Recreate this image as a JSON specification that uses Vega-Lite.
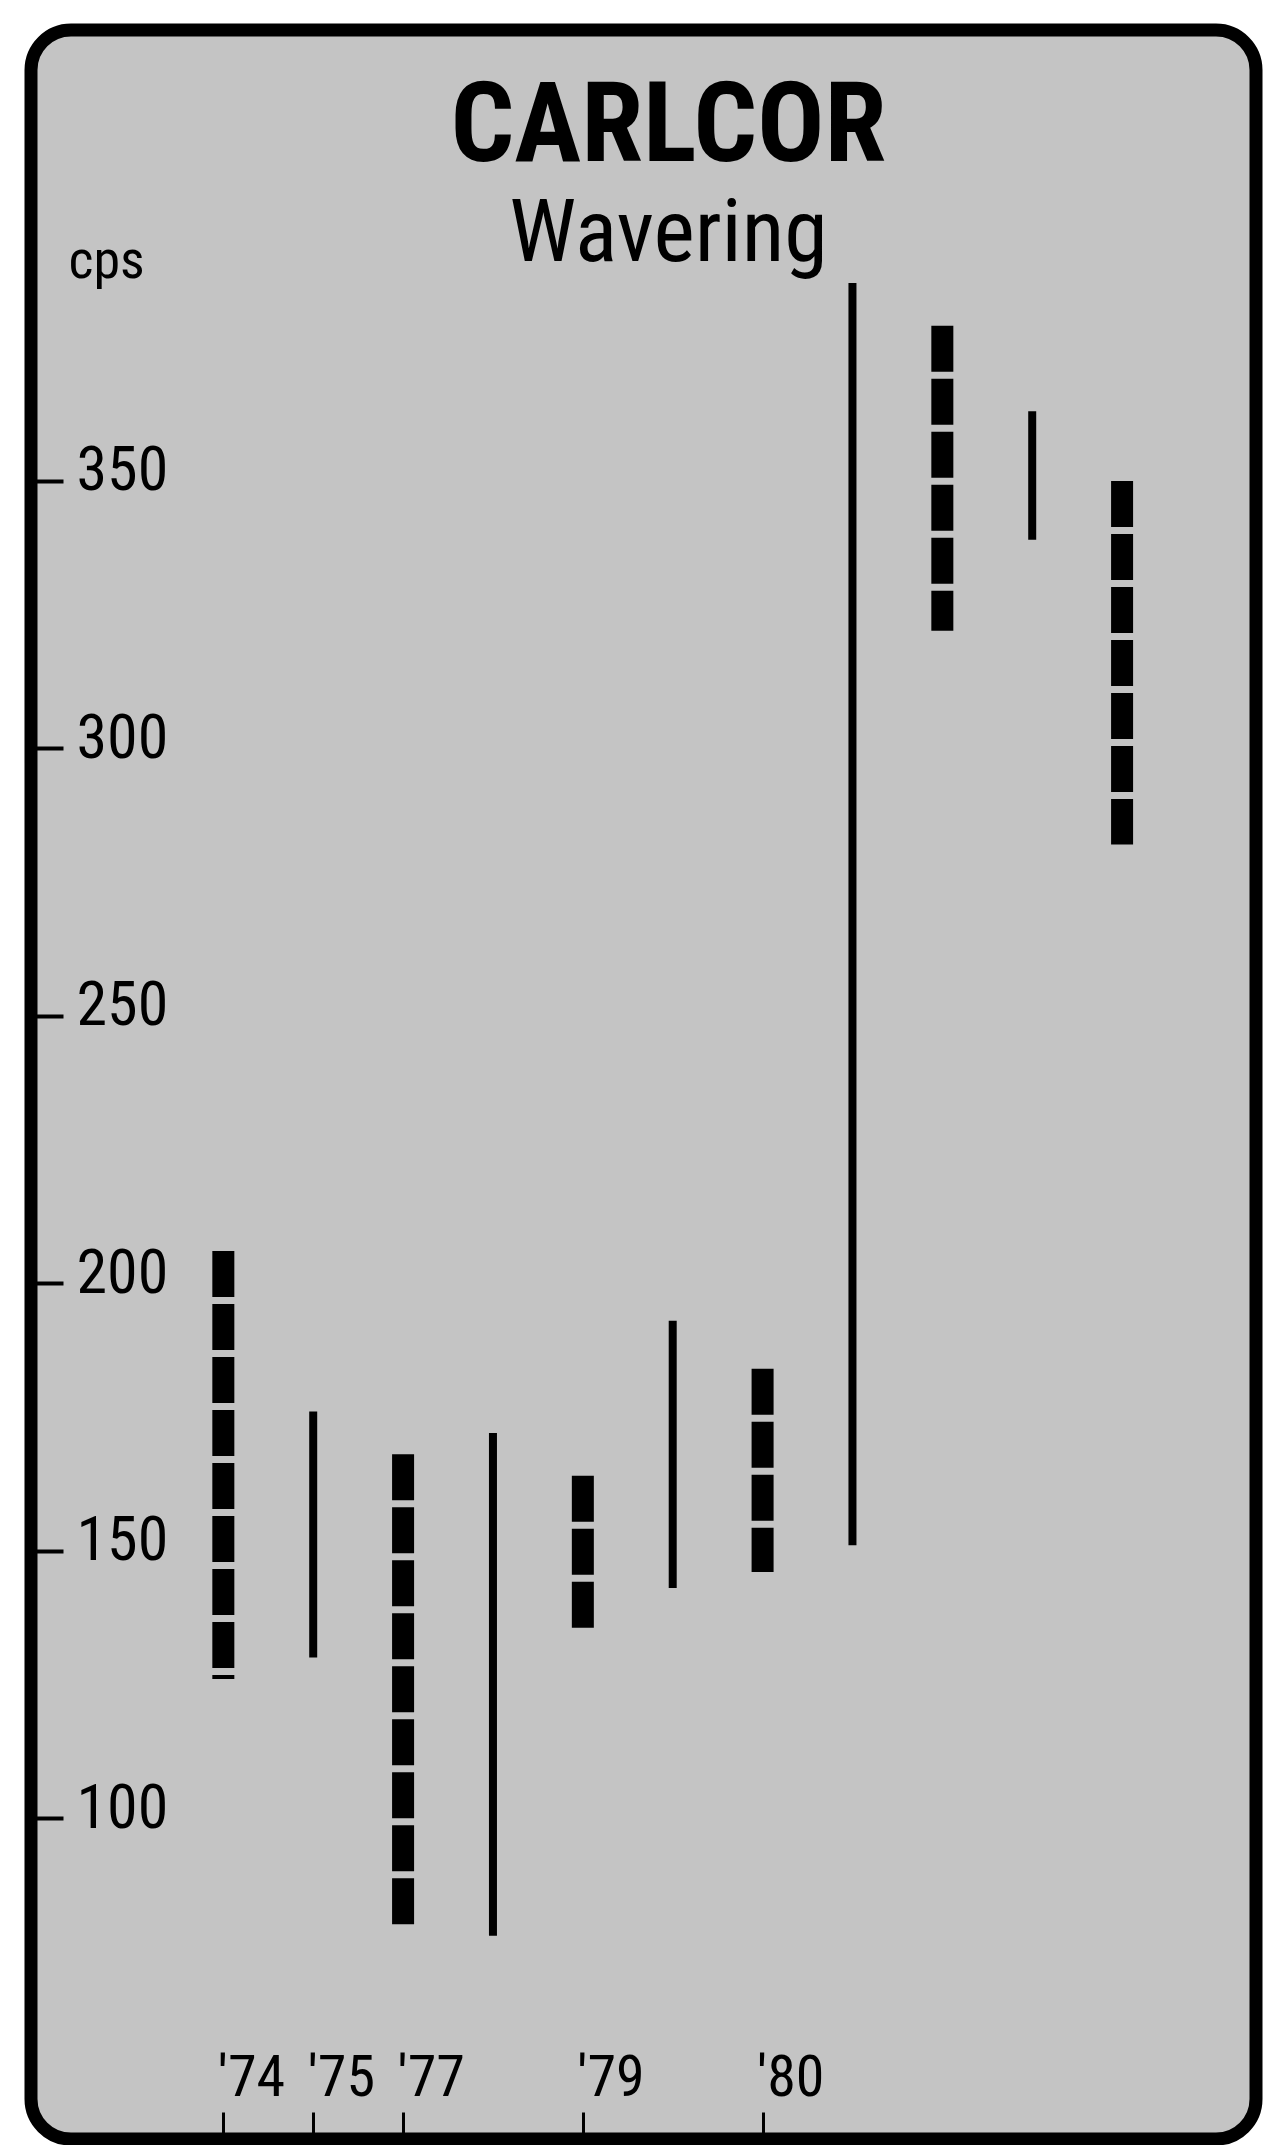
{
  "$schema": "https://vega.github.io/schema/vega-lite/v6.json",
  "width": 1225,
  "height": 2109,
  "autosize": {"type": "none"},
  "padding": {"left": 31, "top": 30, "right": 10, "bottom": 6},
  "background": "white",
  "config": {
    "view": {"stroke": "black", "strokeWidth": 13, "fill": "#c4c4c4", "cornerRadius": 40},
    "font": "Roboto Condensed, DejaVu Sans Condensed, Liberation Sans, sans-serif"
  },
  "title": {
    "text": "CARLCOR",
    "subtitle": "Wavering",
    "anchor": "middle",
    "frame": "group",
    "offset": -251,
    "dx": 25,
    "font": "Roboto Condensed, DejaVu Sans Condensed, Liberation Sans, sans-serif",
    "fontSize": 112,
    "fontWeight": "bold",
    "color": "black",
    "subtitleFont": "Roboto Condensed, DejaVu Sans Condensed, Liberation Sans, sans-serif",
    "subtitleFontSize": 88,
    "subtitleFontWeight": "normal",
    "subtitleColor": "black",
    "subtitlePadding": 6
  },
  "data": {
    "values": [
      {"slot": 0, "series": "A", "low": 126, "high": 206},
      {"slot": 1, "series": "B", "low": 130, "high": 176},
      {"slot": 2, "series": "A", "low": 79, "high": 168},
      {"slot": 3, "series": "B", "low": 78, "high": 172},
      {"slot": 4, "series": "A", "low": 135, "high": 164},
      {"slot": 5, "series": "B", "low": 143, "high": 193},
      {"slot": 6, "series": "A", "low": 146, "high": 184},
      {"slot": 7, "series": "B", "low": 151, "high": 387},
      {"slot": 8, "series": "A", "low": 322, "high": 379},
      {"slot": 9, "series": "B", "low": 339, "high": 363},
      {"slot": 10, "series": "A", "low": 282, "high": 350}
    ]
  },
  "mark": {"type": "rule", "strokeCap": "butt"},
  "encoding": {
    "x": {
      "field": "slot",
      "type": "quantitative",
      "scale": {"domain": [-2.14, 11.49], "nice": false, "zero": false},
      "axis": {
        "orient": "bottom",
        "values": [0, 1, 2, 4, 6],
        "labelExpr": "datum.value==0?\"'74\":datum.value==1?\"'75\":datum.value==2?\"'77\":datum.value==4?\"'79\":\"'80\"",
        "domain": false,
        "grid": false,
        "tickSize": -27,
        "tickWidth": 3,
        "tickColor": "black",
        "labelAlign": "left",
        "labelBaseline": "alphabetic",
        "labelPadding": -17,
        "labelOffset": -6,
        "labelFontSize": 58,
        "labelFont": "Roboto Condensed, DejaVu Sans Condensed, Liberation Sans, sans-serif",
        "labelColor": "black",
        "labelOverlap": false,
        "labelFlush": false,
        "title": null
      }
    },
    "y": {
      "field": "high",
      "type": "quantitative",
      "scale": {"domain": [40, 434.3], "nice": false, "zero": false},
      "axis": {
        "orient": "left",
        "values": [100, 150, 200, 250, 300, 350],
        "domain": false,
        "grid": false,
        "tickSize": -32,
        "tickWidth": 4,
        "tickColor": "black",
        "labelAlign": "left",
        "labelBaseline": "middle",
        "labelPadding": -13,
        "labelOffset": -10,
        "labelFontSize": 62,
        "labelFont": "Roboto Condensed, DejaVu Sans Condensed, Liberation Sans, sans-serif",
        "labelColor": "black",
        "labelOverlap": false,
        "labelFlush": false,
        "title": "cps",
        "titleAngle": 0,
        "titleAlign": "left",
        "titleBaseline": "alphabetic",
        "titleX": 37,
        "titleY": 247,
        "titleFont": "Roboto Condensed, DejaVu Sans Condensed, Liberation Sans, sans-serif",
        "titleFontSize": 54,
        "titleFontWeight": "normal",
        "titleColor": "black"
      }
    },
    "y2": {"field": "low"},
    "strokeWidth": {
      "field": "series",
      "type": "nominal",
      "scale": {"domain": ["A", "B"], "range": [22, 8]},
      "legend": null
    },
    "strokeDash": {
      "field": "series",
      "type": "nominal",
      "scale": {"domain": ["A", "B"], "range": [[46, 7], [1, 0]]},
      "legend": null
    },
    "color": {"value": "black"}
  }
}
